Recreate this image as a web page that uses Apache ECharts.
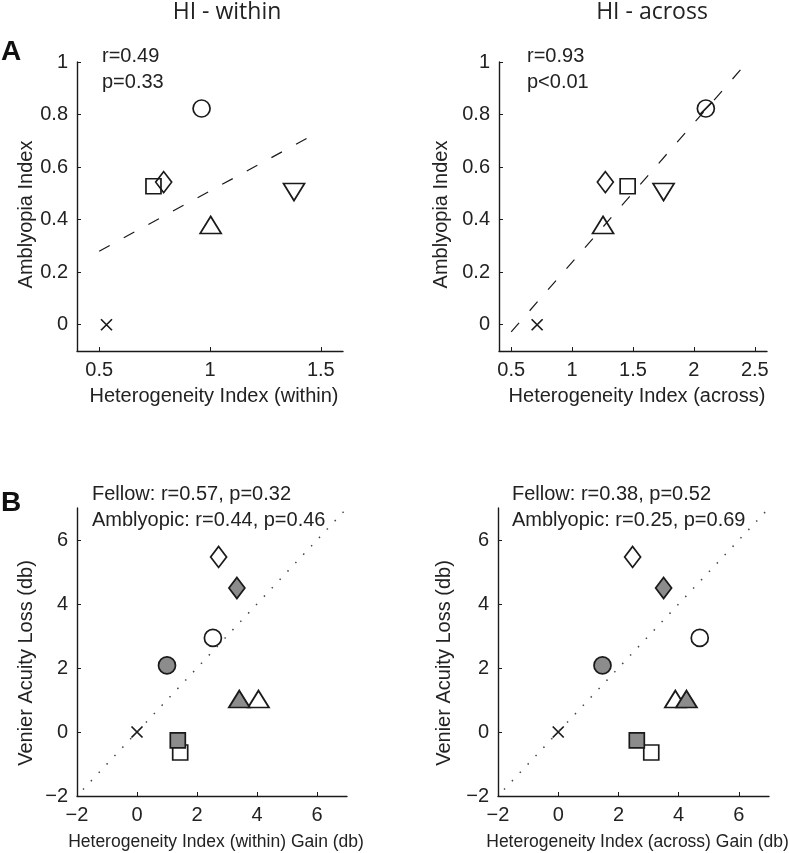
<!DOCTYPE html>
<html>
<head>
<meta charset="utf-8">
<title>Heterogeneity index vs amblyopia</title>
<script src="https://cdn.jsdelivr.net/npm/echarts@6/dist/echarts.min.js"></script>
<style>
  html, body { margin: 0; padding: 0; background: #fff; }
  #chart { width: 789px; height: 853px; }
</style>
</head>
<body>
<div id="chart"></div>
<script>
// subjects, same order in every panel A array
const subjectsA = ['circle', 'diamond', 'square', 'triUp', 'triDown', 'cross']
const amblyopiaIndex = [0.823, 0.543, 0.527, 0.38, 0.505, 0]
const hiWithin = [0.962, 0.791, 0.745, 1.003, 1.379, 0.533]
const hiAcross = [2.098, 1.273, 1.456, 1.254, 1.751, 0.713]
// regression line end points
const fitWithin = [[0.5, 0.28], [1.482, 0.73]]
const fitAcross = [[0.5, -0.027], [2.439, 1.0]]

// panel B: open = fellow eye, grey = amblyopic eye
const subjectsFellow = ['diamond', 'circle', 'triUp', 'square', 'cross']
const subjectsAmblyopic = ['diamond', 'circle', 'triUp', 'square']
const lossFellow = [5.47, 2.94, 1.03, -0.64, 0]
const lossAmblyopic = [4.5, 2.08, 1.03, -0.26]
const gainWithinFellow = [2.72, 2.53, 4.05, 1.44, 0]
const gainWithinAmblyopic = [3.33, 1.0, 3.41, 1.36]
const gainAcrossFellow = [2.47, 4.7, 3.89, 3.09, 0]
const gainAcrossAmblyopic = [3.5, 1.47, 4.26, 2.61]
const unityLine = [[-1.8, -1.8], [6.95, 6.95]]

// tick values
const ticksAmblyopia = [0, 0.2, 0.4, 0.6, 0.8, 1]
const ticksWithin = [0.5, 1, 1.5]
const ticksAcross = [0.5, 1, 1.5, 2, 2.5]
const ticksGain = [-2, 0, 2, 4, 6]

const FONT = '"Liberation Sans", Arial, Helvetica, sans-serif'
const INK = '#1a1a1a'

const X_PATH = 'path://M0,0L10,10M10,0L0,10'
const SLASH_PATH = 'path://M20,10A10,10,0,1,1,0,10A10,10,0,1,1,20,10ZM3.2,16.8L16.8,3.2'
const shapes = {
  circle: { symbol: 'circle', symbolSize: 17 },
  circleSlash: { symbol: SLASH_PATH, symbolSize: 17 },
  diamond: { symbol: 'diamond', symbolSize: [16, 21] },
  square: { symbol: 'rect', symbolSize: 15 },
  triUp: { symbol: 'triangle', symbolSize: [21, 17] },
  triDown: { symbol: 'triangle', symbolSize: [21, 17], symbolRotate: 180 },
  cross: { symbol: X_PATH, symbolSize: 11 }
}

function points(xs, ys, names, swap) {
  return xs.map((x, i) => {
    const name = (swap && swap[names[i]]) || names[i]
    return Object.assign({ value: [x, ys[i]] }, shapes[name])
  })
}

const minus = v => (v < 0 ? '\u2212' + (-v) : String(v))

function xAxis(grid, min, max, ticks, name, nameSize, gap) {
  return {
    type: 'value', gridIndex: grid, min: min, max: max,
    name: name, nameLocation: 'middle', nameGap: gap,
    nameTextStyle: { fontFamily: FONT, fontSize: nameSize, color: '#222', padding: [0, 0, 0, 8] },
    axisLine: { onZero: false, lineStyle: { color: INK, width: 1.4 } },
    axisTick: { inside: true, length: 4, customValues: ticks, lineStyle: { color: INK } },
    axisLabel: { customValues: ticks, margin: 9, fontFamily: FONT, fontSize: 20, color: '#222', formatter: minus },
    splitLine: { show: false }
  }
}

// shift moves the rotated name down the page
function yAxis(grid, min, max, ticks, name, gap, shift) {
  return {
    type: 'value', gridIndex: grid, min: min, max: max,
    name: name, nameLocation: 'middle', nameGap: gap,
    nameTextStyle: { fontFamily: FONT, fontSize: 20, color: '#222', padding: [0, shift * 2, 0, 0] },
    axisLine: { show: true, onZero: false, lineStyle: { color: INK, width: 1.4 } },
    axisTick: { show: true, inside: true, length: 4, customValues: ticks, lineStyle: { color: INK } },
    axisLabel: { customValues: ticks, margin: 9, fontFamily: FONT, fontSize: 20, color: '#222', formatter: minus },
    splitLine: { show: false }
  }
}

function fitLine(grid, data, dash, color, width) {
  return {
    type: 'line', xAxisIndex: grid, yAxisIndex: grid, data: data,
    symbol: 'none', silent: true, animation: false,
    lineStyle: { color: color, width: width, type: dash }
  }
}

function scatter(grid, data, fill) {
  return {
    type: 'scatter', xAxisIndex: grid, yAxisIndex: grid, data: data,
    silent: true, animation: false,
    itemStyle: { color: fill, borderColor: INK, borderWidth: 1.7, opacity: 1 }
  }
}

function text(str, x, y, size, opts) {
  return {
    type: 'text', x: x, y: y, silent: true,
    style: Object.assign({ text: str, font: size + 'px ' + FONT, fill: '#222', align: 'left', verticalAlign: 'middle' }, opts)
  }
}

const chart = echarts.init(document.getElementById('chart'), null, { renderer: 'canvas' })
chart.setOption({
  backgroundColor: '#fff',
  animation: false,
  grid: [
    { left: 77, top: 62, width: 266, height: 289, outerBoundsMode: 'none' },
    { left: 499, top: 62, width: 268, height: 289, outerBoundsMode: 'none' },
    { left: 77, top: 508, width: 270, height: 288, outerBoundsMode: 'none' },
    { left: 498, top: 508, width: 271, height: 288, outerBoundsMode: 'none' }
  ],
  xAxis: [
    xAxis(0, 0.4, 1.6, ticksWithin, 'Heterogeneity Index (within)', 20, 35),
    xAxis(1, 0.4, 2.6, ticksAcross, 'Heterogeneity Index (across)', 20, 35),
    xAxis(2, -2, 7, ticksGain, 'Heterogeneity Index (within) Gain (db)', 17.5, 37),
    xAxis(3, -2, 7, ticksGain, 'Heterogeneity Index (across) Gain (db)', 17.5, 37)
  ],
  yAxis: [
    yAxis(0, -0.1, 1, ticksAmblyopia, 'Amblyopia Index', 41, 8),
    yAxis(1, -0.1, 1, ticksAmblyopia, 'Amblyopia Index', 48, 8),
    yAxis(2, -2, 7, ticksGain, 'Venier Acuity Loss (db)', 41, 11),
    yAxis(3, -2, 7, ticksGain, 'Venier Acuity Loss (db)', 44, 11)
  ],
  series: [
    fitLine(0, fitWithin, [12, 16], INK, 1.2),
    scatter(0, points(hiWithin, amblyopiaIndex, subjectsA), 'transparent'),
    fitLine(1, fitAcross, [12, 16], INK, 1.2),
    scatter(1, points(hiAcross, amblyopiaIndex, subjectsA, { circle: 'circleSlash' }), 'transparent'),
    fitLine(2, unityLine, [1.5, 10], '#444', 1.5),
    scatter(2, points(gainWithinFellow, lossFellow, subjectsFellow), '#fff'),
    scatter(2, points(gainWithinAmblyopic, lossAmblyopic, subjectsAmblyopic), '#8c8c8c'),
    fitLine(3, unityLine, [1.5, 10], '#444', 1.5),
    scatter(3, points(gainAcrossFellow, lossFellow, subjectsFellow), '#fff'),
    scatter(3, points(gainAcrossAmblyopic, lossAmblyopic, subjectsAmblyopic), '#8c8c8c')
  ],
  graphic: [
    text('HI - within', 227, 12, 23, { align: 'center', font: '23px "Open Sans", ' + FONT }),
    text('HI - across', 652, 12, 23, { align: 'center', font: '23px "Open Sans", ' + FONT }),
    text('A', 1, 52, 28, { font: 'bold 28px ' + FONT, fill: '#111' }),
    text('B', 1, 503, 28, { font: 'bold 28px ' + FONT, fill: '#111' }),
    text('r=0.49', 102, 56.5, 20),
    text('p=0.33', 102, 82.5, 20),
    text('r=0.93', 527, 56.5, 20),
    text('p<0.01', 527, 82.5, 20),
    text('Fellow: r=0.57, p=0.32', 92, 494, 20),
    text('Amblyopic: r=0.44, p=0.46', 92, 520, 20),
    text('Fellow: r=0.38, p=0.52', 512, 494, 20),
    text('Amblyopic: r=0.25, p=0.69', 512, 520, 20)
  ]
})
</script>
</body>
</html>
